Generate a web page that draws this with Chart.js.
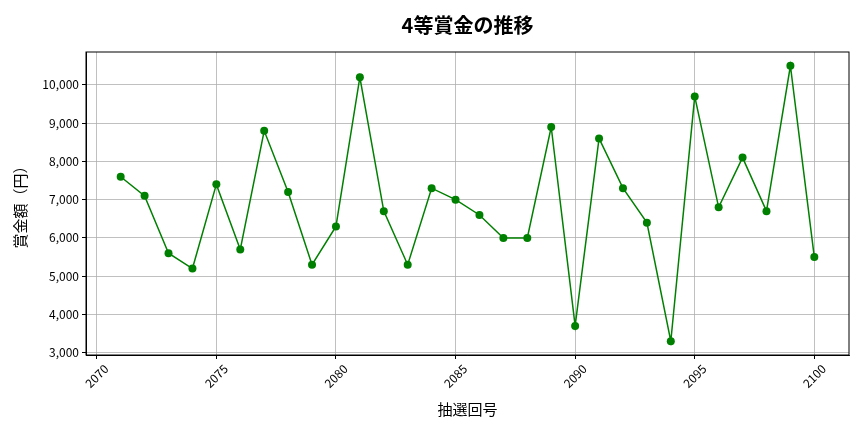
<!DOCTYPE html>
<html>
<head>
<meta charset="utf-8">
<script src="https://cdn.jsdelivr.net/npm/chart.js@4/dist/chart.umd.min.js"></script>
<style>
  html, body { margin: 0; padding: 0; background: #fff; }
  canvas { display: block; }
</style>
</head>
<body>
<canvas id="prizeChart" width="864" height="432"></canvas>
<script>
const drawNumbers = [2071, 2072, 2073, 2074, 2075, 2076, 2077, 2078, 2079, 2080,
  2081, 2082, 2083, 2084, 2085, 2086, 2087, 2088, 2089, 2090,
  2091, 2092, 2093, 2094, 2095, 2096, 2097, 2098, 2099, 2100];
const prizes = [7600, 7100, 5600, 5200, 7400, 5700, 8800, 7200, 5300, 6300,
  10200, 6700, 5300, 7300, 7000, 6600, 6000, 6000, 8900, 3700,
  8600, 7300, 6400, 3300, 9700, 6800, 8100, 6700, 10500, 5500];
const xTicks = [2070, 2075, 2080, 2085, 2090, 2095, 2100];
const yTicks = [3000, 4000, 5000, 6000, 7000, 8000, 9000, 10000];

const fontFamily = '"Noto Sans CJK JP", "Noto Sans", sans-serif';
const lineColor = '#008000';
const gridColor = '#b0b0b0';

// matplotlib style margins: 5% of data range on each side
function padRange(values) {
  const lo = Math.min(...values);
  const hi = Math.max(...values);
  const pad = (hi - lo) * 0.05;
  return { min: lo - pad, max: hi + pad };
}
const xRange = padRange(drawNumbers);
const yRange = padRange(prizes);

// top/right spines and rotated, centered x tick labels
const framePlugin = {
  id: 'frame',
  afterDraw(chart) {
    const { ctx, chartArea } = chart;
    const xScale = chart.scales.x;
    ctx.save();
    ctx.strokeStyle = '#000';
    ctx.lineWidth = 1;
    ctx.strokeRect(chartArea.left, chartArea.top,
      chartArea.right - chartArea.left, chartArea.bottom - chartArea.top);

    ctx.fillStyle = '#000';
    ctx.font = '12px ' + fontFamily;
    ctx.textAlign = 'center';
    ctx.textBaseline = 'middle';
    xScale.ticks.forEach(t => {
      const px = xScale.getPixelForValue(t.value);
      ctx.save();
      ctx.translate(px, chartArea.bottom + 21);
      ctx.rotate(-Math.PI / 4);
      ctx.fillText(String(t.value), 0, 0);
      ctx.restore();
    });
    ctx.restore();
  }
};

const ctx = document.getElementById('prizeChart').getContext('2d');
new Chart(ctx, {
  type: 'line',
  data: {
    datasets: [{
      label: '4等賞金',
      data: drawNumbers.map((n, i) => ({ x: n, y: prizes[i] })),
      borderColor: lineColor,
      backgroundColor: lineColor,
      borderWidth: 1.5,
      pointRadius: 4,
      pointBorderWidth: 0,
      pointBackgroundColor: lineColor,
      tension: 0
    }]
  },
  options: {
    responsive: false,
    animation: false,
    devicePixelRatio: 1,
    layout: { padding: { left: 0, right: 15, top: 0, bottom: 0 } },
    plugins: {
      legend: { display: false },
      tooltip: { enabled: false },
      title: {
        display: true,
        text: '4等賞金の推移',
        fullSize: false,
        color: '#000',
        font: { family: fontFamily, size: 20, weight: 'bold', lineHeight: 1.2 },
        padding: { top: 13, bottom: 15 }
      }
    },
    scales: {
      x: {
        type: 'linear',
        min: xRange.min,
        max: xRange.max,
        afterBuildTicks: scale => { scale.ticks = xTicks.map(v => ({ value: v })); },
        afterFit: scale => { scale.height = 77; },
        ticks: { display: false },
        grid: { color: gridColor, lineWidth: 0.8, tickLength: 4, tickColor: '#000', tickWidth: 1 },
        border: { display: true, color: '#000', width: 1 },
        title: {
          display: true,
          text: '抽選回号',
          color: '#000',
          font: { family: fontFamily, size: 15, lineHeight: 1.2 },
          padding: { top: 0, bottom: 14 }
        }
      },
      y: {
        min: yRange.min,
        max: yRange.max,
        afterBuildTicks: scale => { scale.ticks = yTicks.map(v => ({ value: v })); },
        afterFit: scale => { scale.width = 86; },
        ticks: {
          color: '#000',
          padding: 3,
          font: { family: fontFamily, size: 12 },
          callback: v => v.toLocaleString('en-US')
        },
        grid: { color: gridColor, lineWidth: 0.8, tickLength: 4, tickColor: '#000', tickWidth: 1 },
        border: { display: true, color: '#000', width: 1 },
        title: {
          display: true,
          text: '賞金額（円）',
          color: '#000',
          font: { family: fontFamily, size: 15, lineHeight: 1.2 },
          padding: { top: 11, bottom: 0 }
        }
      }
    }
  },
  plugins: [framePlugin]
});
</script>
</body>
</html>
